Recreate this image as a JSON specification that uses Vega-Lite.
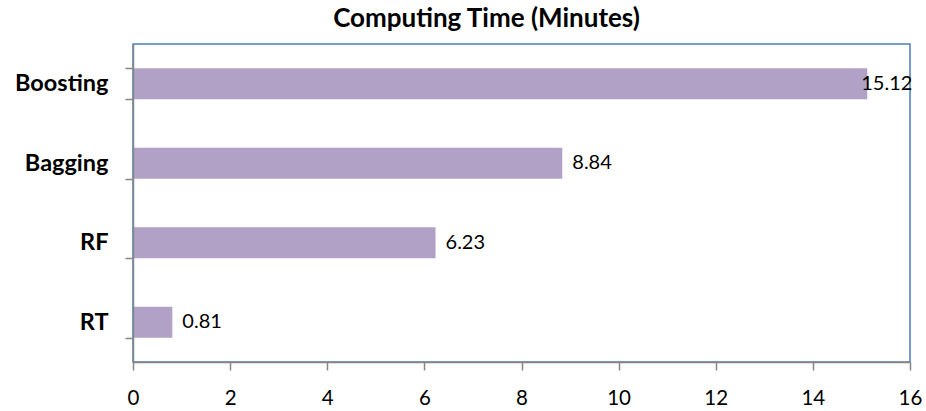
{
  "$schema": "https://vega.github.io/schema/vega-lite/v6.json",
  "autosize": {"type": "none"},
  "width": 777,
  "height": 318,
  "padding": {"left": 133, "top": 44, "right": 16, "bottom": 49},
  "background": "white",
  "title": {
    "text": "Computing Time (Minutes)",
    "font": "Lato",
    "fontSize": 26,
    "fontWeight": "bold",
    "color": "black",
    "anchor": "middle",
    "offset": 0,
    "dx": -35
  },
  "config": {
    "view": {"stroke": "#4A7EBB", "strokeWidth": 1.5},
    "font": "Lato"
  },
  "data": {
    "values": [
      {"method": "Boosting", "minutes": 15.12},
      {"method": "Bagging", "minutes": 8.84},
      {"method": "RF", "minutes": 6.23},
      {"method": "RT", "minutes": 0.81}
    ]
  },
  "encoding": {
    "y": {
      "field": "method",
      "type": "nominal",
      "sort": null,
      "scale": {"paddingInner": 0.61, "paddingOuter": 0.305},
      "axis": {
        "title": null,
        "tickBand": "extent",
        "domainColor": "#868686",
        "domainWidth": 1.5,
        "tickColor": "#868686",
        "tickWidth": 1.5,
        "tickSize": 8,
        "labelFont": "Lato",
        "labelFontSize": 23.5,
        "labelFontWeight": "bold",
        "labelColor": "black",
        "labelPadding": 17,
        "zindex": 1
      }
    },
    "x": {
      "field": "minutes",
      "type": "quantitative",
      "scale": {"domain": [0, 16], "nice": false},
      "axis": {
        "title": null,
        "values": [0, 2, 4, 6, 8, 10, 12, 14, 16],
        "grid": false,
        "domainColor": "#868686",
        "domainWidth": 1.5,
        "tickColor": "#868686",
        "tickWidth": 1.5,
        "tickSize": 8,
        "labelFont": "Lato",
        "labelFontSize": 20.5,
        "labelColor": "black",
        "labelPadding": 18,
        "labelFlush": false,
        "zindex": 1
      }
    }
  },
  "layer": [
    {
      "mark": {"type": "bar", "color": "#B2A1C7"}
    },
    {
      "transform": [{"filter": "datum.method !== 'Boosting'"}],
      "mark": {"type": "text", "align": "left", "baseline": "middle", "dx": 10, "fontSize": 20, "color": "black"},
      "encoding": {"text": {"field": "minutes", "type": "quantitative", "format": ".2f"}}
    },
    {
      "transform": [{"filter": "datum.method === 'Boosting'"}],
      "mark": {"type": "text", "align": "left", "baseline": "middle", "dx": -6, "fontSize": 20, "color": "black"},
      "encoding": {"text": {"field": "minutes", "type": "quantitative", "format": ".2f"}}
    }
  ]
}
